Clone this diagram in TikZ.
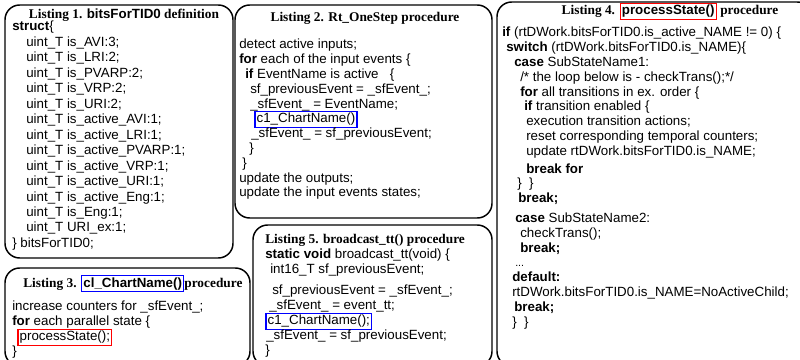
\documentclass[tikz,border=0pt]{standalone}
\usepackage{fontspec}
\setmainfont{Liberation Sans}
\newfontfamily\capfont{Liberation Serif}
\usetikzlibrary{positioning}
\newdimen\pxu \pxu=0.75pt
\newcommand{\ind}[1]{\hspace*{#1\pxu}}
\newcommand{\hlbox}[2]{{\setlength{\fboxsep}{0.8pt}\setlength{\fboxrule}{1pt}\smash{\color{#1}\fbox{\color{black}#2}}}}
\newcommand{\codebf}[1]{{\normalfont\bfseries #1}}
\tikzset{
listbox/.style={draw=black, line width=1.1pt, rounded corners=11pt},
listtitle/.style={font=\capfont\bfseries\fontsize{10}{12}\selectfont, inner sep=0pt},
listbody/.style={font=\fontsize{10}{10.9}\selectfont, align=left, inner sep=0pt, anchor=north west},
}
\begin{document}
\begin{tikzpicture}[x=0.75pt, y=-0.75pt]
\useasboundingbox (0,0) rectangle (800,360);
\clip (0,0) rectangle (800,360);
% frames
\draw[listbox] (5,5) rectangle (233,258);
\draw[listbox] (235,5) rectangle (492,218);
\draw[listbox] (5,268) rectangle (250,366);
\draw[listbox] (253,225) rectangle (492,366);
\draw[listbox] (497,2) rectangle (812,366);

% Listing 1
\node[listtitle, anchor=base] (bitstitle) at (124,19) {Listing 1. \codebf{bitsForTID0} definition};
\node[listbody, font=\fontsize{10}{11.6}\selectfont] (bitsbody) at (12,21) {%
\textbf{struct}\{\\
\ind{14}uint\_T is\_AVI:3;\\
\ind{14}uint\_T is\_LRI:2;\\
\ind{14}uint\_T is\_PVARP:2;\\
\ind{14}uint\_T is\_VRP:2;\\
\ind{14}uint\_T is\_URI:2;\\
\ind{14}uint\_T is\_active\_AVI:1;\\
\ind{14}uint\_T is\_active\_LRI:1;\\
\ind{14}uint\_T is\_active\_PVARP:1;\\
\ind{14}uint\_T is\_active\_VRP:1;\\
\ind{14}uint\_T is\_active\_URI:1;\\
\ind{14}uint\_T is\_active\_Eng:1;\\
\ind{14}uint\_T is\_Eng:1;\\
\ind{14}uint\_T URI\_ex:1;\\
\} bitsForTID0;};

% Listing 2
\node[listtitle, anchor=base] (steptitle) at (365,22) {Listing 2. Rt\_OneStep procedure};
\node[listbody, font=\fontsize{10}{11.1}\selectfont] (stepbody) at (239,39) {%
detect active inputs;\\
\textbf{for} each of the input events \{\\
\ind{6}\textbf{if} EventName is active \ \ \{\\
\ind{11}sf\_previousEvent = \_sfEvent\_;\\
\ind{11}\_sfEvent\_ = EventName;\\
\ind{15}\hlbox{blue}{c1\_ChartName()}\\
\ind{12}\_sfEvent\_ = sf\_previousEvent;\\
\ind{10}\}\\
\ind{3}\}\\
update the outputs;\\
update the input events states;};

% Listing 3
\node[listtitle, anchor=base west] (charttitle) at (23,287) {Listing 3. \hlbox{blue}{\codebf{cl\_ChartName()}}procedure};
\node[listbody, font=\fontsize{10}{11.25}\selectfont] (chartbody) at (12,301) {%
increase counters for \_sfEvent\_;\\
\textbf{for} each parallel state \{\\
\ind{5}\hlbox{red}{processState();}\\
\}};

% Listing 4
\node[listtitle, anchor=base] (proctitle) at (670,15) {Listing 4. \hlbox{red}{\codebf{processState()}} procedure};
\node[listbody, font=\fontsize{10}{11.1}\selectfont] (procbody) at (502,27) {%
\textbf{if} (rtDWork.bitsForTID0.is\_active\_NAME != 0) \{\\
\ind{4}\textbf{switch} (rtDWork.bitsForTID0.is\_NAME)\{\\
\ind{12}\textbf{case} SubStateName1:\\
\ind{18}/* the loop below is - checkTrans();*/\\
\ind{18}\textbf{for} all transitions in ex. order \{\\
\ind{22}\textbf{if} transition enabled \{\\
\ind{24}execution transition actions;\\
\ind{24}reset corresponding temporal counters;\\
\ind{24}update rtDWork.bitsForTID0.is\_NAME;\\[2.25pt]
\ind{24}\textbf{break for}\\
\ind{15}\} \ \}\\
\ind{16}\textbf{break;}\\[3.75pt]
\ind{13}\textbf{case} SubStateName2:\\
\ind{18}checkTrans();\\
\ind{18}\textbf{break;}\\
\ind{13}{\footnotesize ...}\\
\ind{10}\textbf{default:}\\
\ind{10}rtDWork.bitsForTID0.is\_NAME=NoActiveChild;\\
\ind{12}\textbf{break;}\\
\ind{10}\} \ \}};

% Listing 5
\node[listtitle, anchor=base west] (casttitle) at (265,243) {Listing 5. broadcast\_tt() procedure};
\node[listbody, font=\fontsize{10}{11.25}\selectfont] (castbody) at (265,249) {%
\textbf{static void} broadcast\_tt(void) \{\\
\ind{5}int16\_T sf\_previousEvent;\\[4.5pt]
\ind{7}sf\_previousEvent = \_sfEvent\_;\\
\ind{4}\_sfEvent\_ = event\_tt;\\
\hlbox{blue}{c1\_ChartName();}\\
\ind{1}\_sfEvent\_ = sf\_previousEvent;\\
\}};
\end{tikzpicture}
\end{document}
